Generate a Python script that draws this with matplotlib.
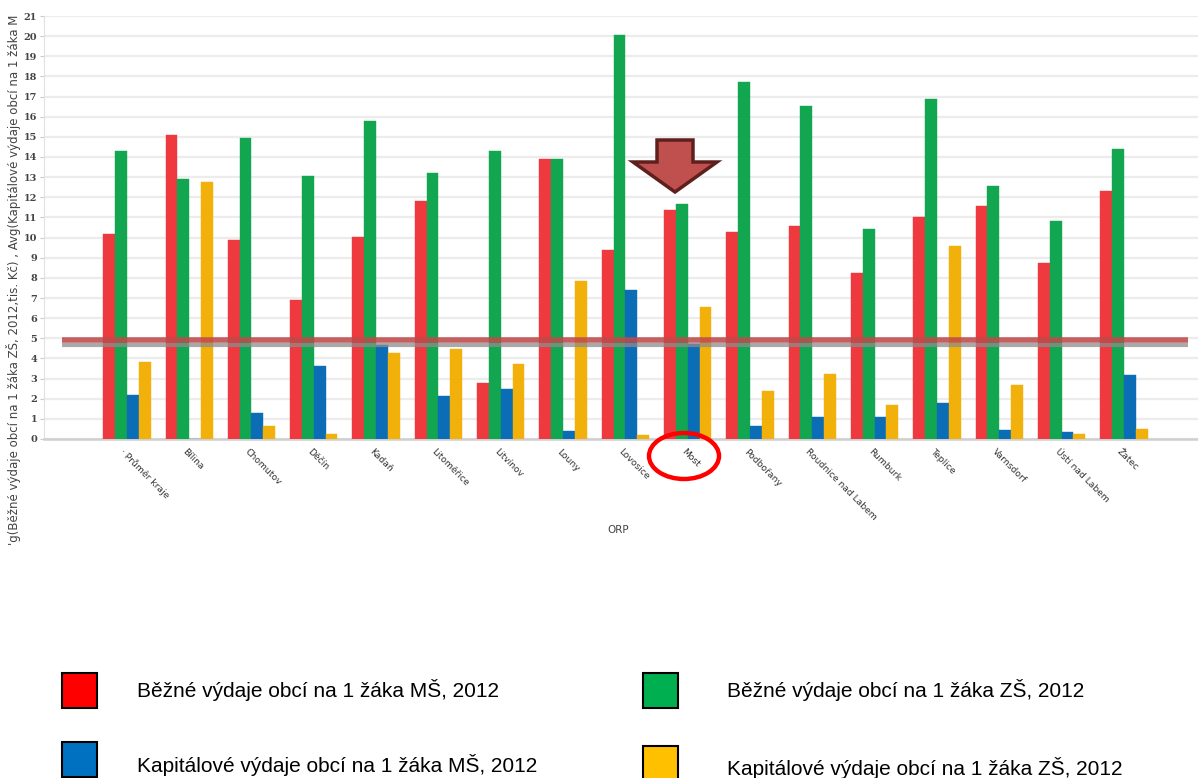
import numpy as np
import matplotlib.pyplot as plt
from matplotlib.patches import Polygon, Ellipse, Rectangle

# ORP categories
orp = ["· Průměr kraje", "Bílina", "Chomutov", "Děčín", "Kadaň", "Litoměřice",
       "Litvínov", "Louny", "Lovosice", "Most", "Podbořany", "Roudnice nad Labem",
       "Rumburk", "Teplice", "Varnsdorf", "Ústí nad Labem", "Žatec"]

# values in thousands CZK per pupil
bezne_ms = [10.2, 15.1, 9.9, 6.9, 10.05, 11.8, 2.8, 13.9, 9.4, 11.35, 10.3, 10.55,
            8.25, 11.0, 11.55, 8.75, 12.3]
bezne_zs = [14.3, 12.9, 14.95, 13.05, 15.8, 13.2, 14.3, 13.9, 20.05, 11.65, 17.7, 16.55,
            10.45, 16.9, 12.55, 10.8, 14.4]
kap_ms = [2.2, 0.0, 1.3, 3.6, 4.65, 2.15, 2.5, 0.4, 7.4, 4.7, 0.65, 1.1,
          1.1, 1.8, 0.45, 0.35, 3.2]
kap_zs = [3.8, 12.75, 0.65, 0.25, 4.25, 4.45, 3.7, 7.85, 0.2, 6.55, 2.4, 3.25,
          1.7, 9.6, 2.7, 0.25, 0.5]

ref_red = 4.9
ref_gray = 4.67

legend_labels = ["Běžné výdaje obcí na 1 žáka MŠ, 2012",
                 "Běžné výdaje obcí na 1 žáka ZŠ, 2012",
                 "Kapitálové výdaje obcí na 1 žáka MŠ, 2012",
                 "Kapitálové výdaje obcí na 1 žáka ZŠ, 2012"]

W, H = 1198, 778
fig = plt.figure(figsize=(W / 100, H / 100), dpi=100)


def fp(x, y):
    # pixel (from top-left) -> figure fraction
    return x / W, 1 - y / H


ax = fig.add_axes([44 / W, 1 - 439 / H, (W - 44) / W, (439 - 16) / H])

x = np.arange(len(orp))
bw = 0.19
series = [bezne_ms, bezne_zs, kap_ms, kap_zs]
colors = ["#ee3a3f", "#12a651", "#0b6db5", "#f2b10a"]
for i, (vals, c) in enumerate(zip(series, colors)):
    ax.bar(x + (i - 1.5) * bw, vals, bw, color=c, edgecolor=c, linewidth=0.3, zorder=3)

ax.set_xlim(-1.33, 17.19)
ax.set_ylim(0, 21)
ax.set_yticks(range(0, 22))
ax.yaxis.grid(True, color="#ececec", linewidth=1.6, zorder=0)
for s in ["top", "right"]:
    ax.spines[s].set_visible(False)
ax.spines["left"].set_color("#e0e0e0")
ax.spines["bottom"].set_color("#cfcfcf")
ax.spines["bottom"].set_linewidth(1.8)
ax.tick_params(axis="y", length=3, color="#cccccc", labelsize=7, pad=2)
for lab in ax.get_yticklabels():
    lab.set_family("DejaVu Serif")
    lab.set_fontweight("bold")
    lab.set_color("#444444")
ax.set_xticks(x - 0.03)
ax.set_xticklabels(orp, rotation=-45, ha="left", va="top", rotation_mode="anchor",
                   fontsize=6.6, color="#333333")
ax.tick_params(axis="x", length=0, pad=6)

# reference lines
ax.plot([0.016, 0.991], [ref_gray, ref_gray], transform=ax.get_yaxis_transform(),
        color="#8c8c8c", alpha=0.75, linewidth=3.0, zorder=4, solid_capstyle="butt")
ax.plot([0.016, 0.991], [ref_red, ref_red], transform=ax.get_yaxis_transform(),
        color="#bf4a4a", alpha=0.88, linewidth=4.0, zorder=5, solid_capstyle="butt")

fig.text(*fp(618, 530), "ORP", fontsize=7.5, color="#444444", ha="center", va="center")
fig.text(*fp(14, 545),
         "'g(Běžné výdaje obcí na 1 žáka ZŠ, 2012,tis. Kč) , Avg(Kapitálové výdaje obcí na 1 žáka M",
         rotation=90, ha="center", va="bottom", fontsize=8.5, color="#444444")

# arrow annotation
arrow_px = [(657, 140), (693, 140), (693, 162), (717, 162), (675, 192),
            (633, 162), (657, 162)]
fig.patches.append(Polygon([fp(px, py) for px, py in arrow_px], closed=True,
                           transform=fig.transFigure, facecolor="#c0504d",
                           edgecolor="#5e1f1d", linewidth=2.5, joinstyle="miter"))
# circle around Most
fig.patches.append(Ellipse(fp(684, 456), 70 / W, 46 / H, transform=fig.transFigure,
                           facecolor="none", edgecolor="#ff0000", linewidth=3.2))

# legend
leg_pos = [(62, 673, 137, 690), (643, 673, 727, 690),
           (62, 742, 137, 765), (643, 746, 727, 768)]
leg_colors = ["#ff0000", "#00b050", "#0070c0", "#ffc000"]
for (sx, sy, tx, ty), c, lab in zip(leg_pos, leg_colors, legend_labels):
    x0, y0 = fp(sx, sy + 35)
    fig.patches.append(Rectangle((x0, y0), 35 / W, 35 / H, transform=fig.transFigure,
                                 facecolor=c, edgecolor="black", linewidth=1.5))
    fig.text(*fp(tx, ty), lab, fontsize=15, family="Liberation Sans",
             ha="left", va="center", color="black")

fig.savefig("out.png", dpi=100)
plt.close(fig)
